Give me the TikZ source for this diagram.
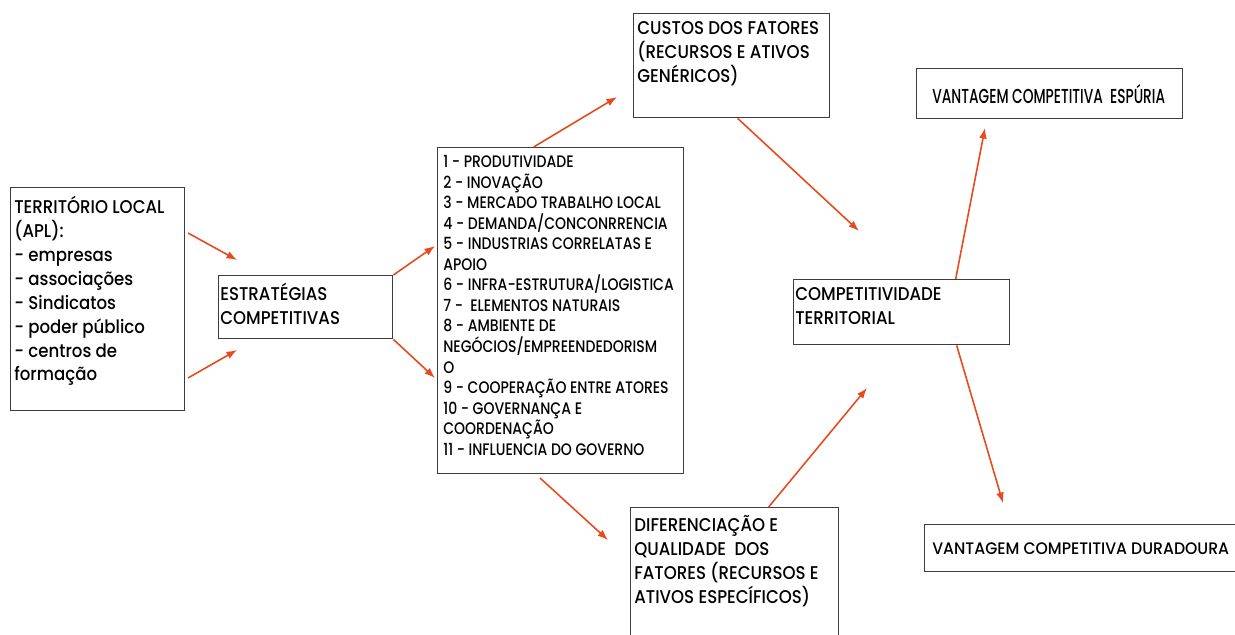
\documentclass[tikz,border=0pt]{standalone}
\usepackage{fontspec}
\setmainfont{Poppins}[FakeStretch=0.9, UprightFont=* Medium]
\newfontfamily\estreita{Poppins}[FakeStretch=0.68, UprightFont=* Medium]
\newfontfamily\lista{Poppins}[FakeStretch=0.84, UprightFont=* Medium]
\newfontfamily\larga{Poppins}[FakeStretch=0.94, UprightFont=* Medium]
\usetikzlibrary{arrows.meta}
\definecolor{setacor}{HTML}{E8491D}
\definecolor{bordacor}{HTML}{3C3C3C}
\tikzset{
  caixa/.style={draw=bordacor, line width=0.8pt, anchor=north west, inner sep=0pt},
  seta/.style={draw=setacor, line width=0.9pt, -{Latex[length=6pt,width=4.5pt]}},
  texto/.style={anchor=north west, align=left, inner sep=0pt, font=\fontsize{10.5}{13.6}\selectfont},
  textinho/.style={anchor=north west, align=left, inner sep=0pt, font=\lista\fontsize{9.5}{11.7}\selectfont},
}
\begin{document}
\begin{tikzpicture}[x=0.02cm, y=-0.02cm]
  \useasboundingbox (0,0) rectangle (1235,635);
  % caixas
  \node[caixa, minimum width=3.48cm, minimum height=4.46cm,
    label={[texto, xshift=0.08cm, yshift=-0.18cm]north west:{TERRITÓRIO LOCAL\\(APL):\\- empresas\\- associações\\- Sindicatos\\- poder público\\- centros de\\formação}}]
    (territorio) at (10,187) {};
  \node[caixa, minimum width=3.48cm, minimum height=1.26cm,
    label={[texto, xshift=0.04cm, yshift=-0.16cm]north west:{ESTRATÉGIAS\\COMPETITIVAS}}]
    (estrategias) at (218,275) {};
  \node[caixa, minimum width=4.92cm, minimum height=6.52cm,
    label={[textinho, xshift=0.12cm, yshift=-0.16cm]north west:{1 - PRODUTIVIDADE\\2 - INOVAÇÃO\\3 - MERCADO TRABALHO LOCAL\\4 - DEMANDA/CONCONRRENCIA\\5 - INDUSTRIAS CORRELATAS E\\APOIO\\6 - INFRA-ESTRUTURA/LOGISTICA\\7 -~ ELEMENTOS NATURAIS\\8 - AMBIENTE DE\\NEGÓCIOS/EMPREENDEDORISM\\O\\9 - COOPERAÇÃO ENTRE ATORES\\10 - GOVERNANÇA E\\COORDENAÇÃO\\11 - INFLUENCIA DO GOVERNO}}]
    (fatores) at (437,147) {};
  \node[caixa, minimum width=3.92cm, minimum height=2.08cm,
    label={[texto, xshift=0.08cm, yshift=-0.16cm]north west:{CUSTOS DOS FATORES\\(RECURSOS E ATIVOS\\GENÉRICOS)}}]
    (custos) at (633,13) {};
  \node[caixa, minimum width=4.16cm, minimum height=2.8cm,
    label={[texto, xshift=0.08cm, yshift=-0.16cm]north west:{DIFERENCIAÇÃO E\\QUALIDADE~ DOS\\FATORES (RECURSOS E\\ATIVOS ESPECÍFICOS)}}]
    (diferenciacao) at (630,507) {};
  \node[caixa, minimum width=4.32cm, minimum height=1.30cm,
    label={[texto, xshift=0.04cm, yshift=-0.16cm]north west:{COMPETITIVIDADE\\TERRITORIAL}}]
    (competitividade) at (793,279) {};
  \node[caixa, minimum width=5.32cm, minimum height=1.0cm,
    label={[texto, anchor=west, xshift=0.32cm, font=\estreita\fontsize{11.5}{13.6}\selectfont]west:{VANTAGEM COMPETITIVA~ ESPÚRIA}}]
    (espuria) at (916,68) {};
  \node[caixa, minimum width=6.6cm, minimum height=0.94cm,
    label={[textinho, anchor=west, xshift=0.16cm, font=\larga\fontsize{9.5}{11.7}\selectfont]west:{VANTAGEM COMPETITIVA DURADOURA}}]
    (duradoura) at (924,524) {};
  % pontas livres das setas
  \coordinate (t1) at (188,233);
  \coordinate (e1) at (237,260);
  \coordinate (t2) at (188,378);
  \coordinate (e2) at (237,350);
  \coordinate (f1) at (435,246);
  \coordinate (f2) at (435,378);
  \coordinate (c1) at (617,97);
  \coordinate (k1) at (859,231);
  \coordinate (f3) at (540,478);
  \coordinate (d1) at (608,540);
  \coordinate (k2) at (867,388);
  \coordinate (v1) at (985,128);
  \coordinate (v2) at (1003,503);
  % setas
  \draw[seta] (t1) -- (e1);
  \draw[seta] (t2) -- (e2);
  \draw[seta] (estrategias.north east) -- (f1);
  \draw[seta] (estrategias.south east) -- (f2);
  \draw[seta] ([xshift=-0.54cm]fatores.north) -- (c1);
  \draw[seta] ([xshift=0.12cm]custos.south) -- (k1);
  \draw[seta] (f3) -- (d1);
  \draw[seta] ([xshift=0.68cm]diferenciacao.north) -- (k2);
  \draw[seta] ([xshift=1.08cm]competitividade.north) -- (v1);
  \draw[seta] ([xshift=1.1cm]competitividade.south) -- (v2);
\end{tikzpicture}
\end{document}
